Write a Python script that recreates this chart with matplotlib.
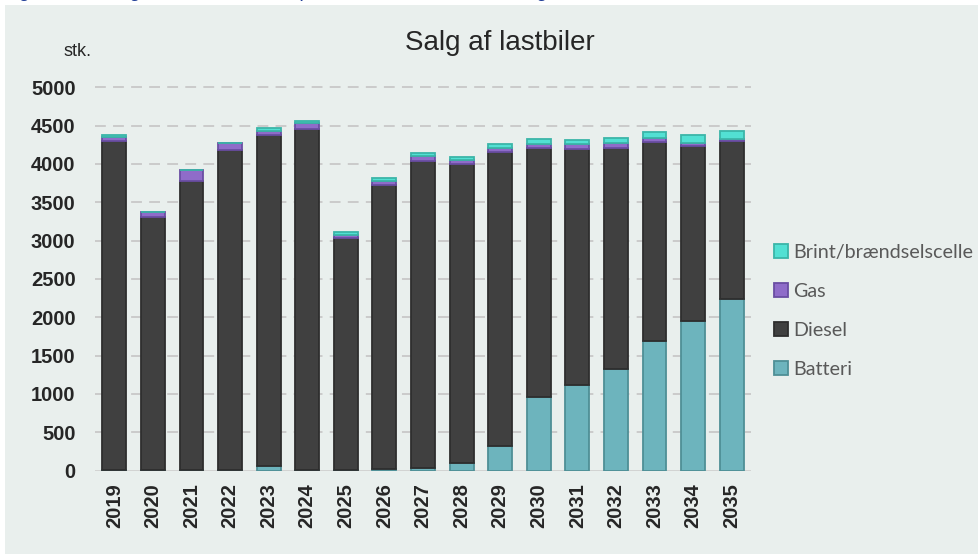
import matplotlib
matplotlib.use("Agg")
import matplotlib.pyplot as plt
from matplotlib.patches import Patch
import numpy as np

years = [str(y) for y in range(2019, 2036)]
batteri = [5, 3, 12, 5, 60, 5, 5, 20, 37, 100, 320, 955, 1120, 1325, 1690, 1950, 2240]
diesel = [4296, 3310, 3771, 4179, 4316, 4453, 3030, 3707, 4007, 3905, 3842, 3251, 3081, 2889, 2602, 2290, 2061]
gas = [52, 66, 136, 88, 56, 71, 40, 53, 55, 48, 52, 60, 57, 57, 48, 39, 26]
brint = [20, 0, 0, 0, 35, 30, 39, 35, 40, 39, 48, 58, 57, 66, 83, 97, 109]

series = [
    ("Batteri", batteri, "#6db4bd", "#4f8f96"),
    ("Diesel", diesel, "#404040", "#2e2e2e"),
    ("Gas", gas, "#8f6cc9", "#6a4ea3"),
    ("Brint/brændselscelle", brint, "#52e0d3", "#3bb5a8"),
]

bg = "#e9efed"
fig = plt.figure(figsize=(9.79, 5.54), dpi=100)
fig.patch.set_facecolor("white")
fig.patches.append(plt.Rectangle((5/979, 0), 1 - 5/979, 1 - 5/554, transform=fig.transFigure,
                                 facecolor=bg, edgecolor="none", zorder=-10))

# caption of the source document, cut off at the top edge as in the reference
fig.text(4/979, 1 + 3/554, "Figur 7.10: Salg af lastbiler fordelt på drivmiddel i fremskrivning, 2019-2035",
         ha="left", va="baseline", fontsize=14, style="italic",
         family="Liberation Sans", color="#1f3c96", zorder=-20)

ax = fig.add_axes([95/979, 1 - 470.5/554, (751 - 95)/979, (470.5 - 87.3)/554])
ax.set_zorder(5)
ax.patch.set_alpha(0)

x = np.arange(len(years))
bottom = np.zeros(len(years))
handles = {}
for name, vals, fc, ec in series:
    v = np.array(vals, dtype=float)
    ax.bar(x, v, 0.62, bottom=bottom, color=fc, edgecolor=ec, linewidth=1.3, zorder=3)
    handles[name] = Patch(facecolor=fc, edgecolor=ec, linewidth=1.3, label=name)
    bottom += v

ax.set_xlim(-0.5, len(years) - 0.5)
ax.set_ylim(0, 5000)
ax.set_yticks(np.arange(0, 5001, 500))
for yv in np.arange(500, 5001, 500):
    ax.axhline(yv, color="#c8c8c8", linewidth=1.3, dashes=(6, 4), zorder=1, clip_on=False)
ax.axhline(0, color="#d0d0d0", linewidth=1.3, zorder=2)

for s in ax.spines.values():
    s.set_visible(False)
ax.tick_params(axis="both", length=0)
ax.tick_params(axis="y", pad=14)
ax.tick_params(axis="x", pad=9)
ax.set_xticks(x)
ax.set_xticklabels(years, rotation=90, fontsize=14.5, fontweight="bold",
                   family="Liberation Sans", color="#262626")
for lbl in ax.get_yticklabels():
    lbl.set_fontsize(14.5)
    lbl.set_fontweight("bold")
    lbl.set_family("Liberation Sans")
    lbl.set_color("#262626")

fig.text(500/979, 1 - 43/554, "Salg af lastbiler", ha="center", va="center",
         fontsize=20, family="Liberation Sans", color="#262626")
fig.text(78/979, 1 - 52/554, "stk.", ha="center", va="center",
         fontsize=13, family="Liberation Sans", color="#262626")

order = ["Brint/brændselscelle", "Gas", "Diesel", "Batteri"]
leg = fig.legend(handles=[handles[n] for n in order], loc="upper left",
                 bbox_to_anchor=(766/979, 1 - 236/554), frameon=False,
                 prop={"family": "Lato", "size": 14.2}, handlelength=0.72, handleheight=0.72,
                 handletextpad=0.25, labelspacing=1.12, borderaxespad=0)
for t in leg.get_texts():
    t.set_color("#595959")

fig.savefig("out.png", dpi=100, facecolor=fig.get_facecolor())
